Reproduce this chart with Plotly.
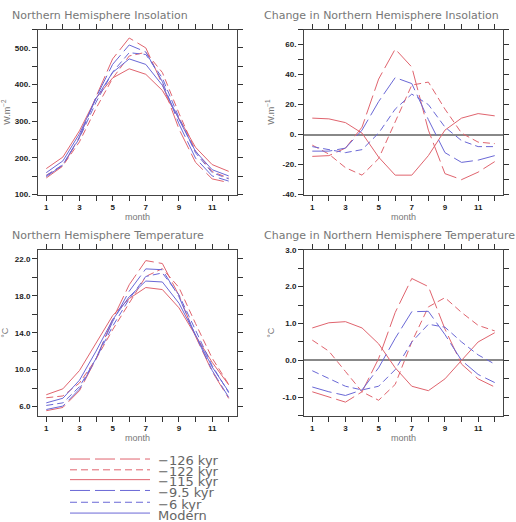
import plotly.graph_objects as go

months = list(range(1, 13))
series_names = ["\u2212126 kyr", "\u2212122 kyr", "\u2212115 kyr", "\u22129.5 kyr", "\u22126 kyr", "Modern"]

# Northern Hemisphere insolation (W m-2)
ins_126 = [145.5, 178, 257, 367, 470, 527, 500, 401, 279, 188, 143, 133]
ins_122 = [153, 179, 244, 335, 417, 478, 488, 433, 322, 219, 163, 145]
ins_115 = [171, 202.5, 274, 363, 418, 443, 428, 384, 308, 229, 182, 163.5]
ins_95 = [149, 181, 257, 365, 455, 508, 489, 408, 293, 199.5, 151, 137]
ins_6 = [152, 182, 254, 352, 434, 487, 482, 418, 310, 214, 160, 143]
ins_mod = [160, 192, 266, 362, 433, 470, 455, 398, 305, 218, 168, 151]

# Change in insolation relative to Modern
dins_126 = [-14.5, -14, -9, 5, 37, 57, 45, 3, -26, -30, -25, -18]
dins_122 = [-7, -13, -22, -27, -16, 8, 33, 35, 17, 1, -5, -6]
dins_115 = [11, 10.5, 8, 1, -15, -27, -27, -14, 3, 11, 14, 12.5]
dins_95 = [-11, -11, -9, 3, 22, 38, 34, 10, -12, -18.5, -17, -14]
dins_6 = [-8, -10, -12, -10, 1, 17, 27, 20, 5, -4, -8, -8]

# Northern Hemisphere temperature (degC)
tmp_126 = [5.55, 5.9, 7.72, 11.15, 15.45, 19.2, 21.82, 21.5, 18.05, 13.6, 9.8, 6.88]
tmp_122 = [6.95, 7.15, 8.55, 11.15, 14.32, 17.25, 20.1, 20.95, 18.9, 15.0, 11.25, 8.4]
tmp_115 = [7.28, 7.92, 9.9, 12.88, 15.85, 17.7, 18.9, 18.68, 16.7, 13.7, 10.8, 8.35]
tmp_95 = [5.68, 6.05, 7.9, 11.2, 15.2, 18.5, 20.92, 20.83, 17.9, 13.7, 9.92, 7.0]
tmp_6 = [6.12, 6.4, 8.15, 11.2, 14.7, 17.65, 20.1, 20.48, 18.1, 14.2, 10.45, 7.5]
tmp_mod = [6.4, 6.9, 8.85, 12.0, 15.4, 17.9, 19.6, 19.5, 17.2, 13.7, 10.3, 7.6]

# Change in temperature relative to Modern
dtmp_126 = [-0.85, -1.0, -1.13, -0.85, 0.05, 1.3, 2.22, 2.0, 0.85, -0.1, -0.5, -0.72]
dtmp_122 = [0.55, 0.25, -0.3, -0.85, -1.08, -0.65, 0.5, 1.45, 1.7, 1.3, 0.95, 0.8]
dtmp_115 = [0.88, 1.02, 1.05, 0.88, 0.45, -0.2, -0.7, -0.82, -0.5, 0.0, 0.5, 0.75]
dtmp_95 = [-0.72, -0.85, -0.95, -0.8, -0.2, 0.6, 1.32, 1.33, 0.7, 0.0, -0.38, -0.6]
dtmp_6 = [-0.28, -0.5, -0.7, -0.8, -0.7, -0.25, 0.5, 0.98, 0.9, 0.5, 0.15, -0.1]

# Tick labels
month_ticks = [1, 3, 5, 7, 9, 11]
ins_ticks = [100, 200, 300, 400, 500]
dins_ticks = [-40, -20, 0, 20, 40, 60]
tmp_ticks = [6.0, 10.0, 14.0, 18.0, 22.0]
dtmp_ticks = [-1.0, 0.0, 1.0, 2.0, 3.0]

RED = "#e0646e"
BLUE = "#6a68d6"
LONG = "20px,5px"
SHORT = "7px,4px"
styles = [
    (RED, LONG), (RED, SHORT), (RED, "solid"),
    (BLUE, LONG), (BLUE, SHORT), (BLUE, "solid"),
]

fig = go.Figure()

panels = [
    ("x", "y", [ins_126, ins_122, ins_115, ins_95, ins_6, ins_mod]),
    ("x2", "y2", [dins_126, dins_122, dins_115, dins_95, dins_6]),
    ("x3", "y3", [tmp_126, tmp_122, tmp_115, tmp_95, tmp_6, tmp_mod]),
    ("x4", "y4", [dtmp_126, dtmp_122, dtmp_115, dtmp_95, dtmp_6]),
]
for xa, ya, data in panels:
    for i, vals in enumerate(data):
        c, d = styles[i]
        fig.add_trace(go.Scatter(x=months, y=vals, mode="lines", xaxis=xa, yaxis=ya,
                                 line=dict(color=c, width=1, dash=d),
                                 name=series_names[i], showlegend=False))

W, H = 516, 522
def dx(a, b):
    return [a / W, b / W]
def dy(top, bottom):
    return [1 - bottom / H, 1 - top / H]

TICKFONT = dict(size=8, color="#222", family="Liberation Sans")

def xaxis(domain, anchor):
    return dict(domain=domain, anchor=anchor, range=[0.5, 12.5],
                tickvals=month_ticks, ticktext=["<b>%d</b>" % m for m in month_ticks],
                ticks="outside", ticklen=5, tickcolor="#333", showline=True, linecolor="#444",
                linewidth=1, mirror="ticks", showgrid=False, zeroline=False,
                minor=dict(tick0=0, dtick=1, ticks="outside", ticklen=5,
                           tickcolor="#333", showgrid=False),
                tickfont=TICKFONT,
                title=dict(text="month", font=dict(size=9, color="#777", family="Liberation Sans"), standoff=2))

def yaxis(domain, anchor, rng, ticks, minor_step, fmt, title, zero=False):
    return dict(domain=domain, anchor=anchor, range=rng, tickvals=ticks,
                ticktext=["<b>" + fmt(v) + "</b>" for v in ticks],
                ticks="outside", ticklen=5, tickcolor="#333", showline=True, linecolor="#444",
                linewidth=1, mirror="ticks", showgrid=False, zeroline=zero,
                zerolinecolor="#888", zerolinewidth=1.5,
                minor=dict(tick0=ticks[0], dtick=minor_step, ticks="outside", ticklen=5,
                           tickcolor="#333", showgrid=False),
                tickfont=TICKFONT,
                title=dict(text=title, font=dict(size=9, color="#777", family="Liberation Sans"), standoff=6))

fig.update_layout(
    width=W, height=H, margin=dict(l=0, r=0, t=0, b=0),
    paper_bgcolor="white", plot_bgcolor="white", showlegend=False,
    xaxis=xaxis(dx(38, 237), "y"),
    yaxis=yaxis(dy(26, 194), "x", [100, 550], ins_ticks, 50, lambda v: "%d." % v, "W.m<sup>\u22122</sup>"),
    xaxis2=xaxis(dx(304, 503), "y2"),
    yaxis2=yaxis(dy(26, 194), "x2", [-40, 70], dins_ticks, 10, lambda v: "%d." % v, "W.m<sup>\u22121</sup>", zero=True),
    xaxis3=xaxis(dx(38, 237), "y3"),
    yaxis3=yaxis(dy(250, 419), "x3", [5, 23], tmp_ticks, 2, lambda v: "%.1f" % v, "\u00b0C"),
    xaxis4=xaxis(dx(304, 503), "y4"),
    yaxis4=yaxis(dy(250, 419), "x4", [-1.5, 3.0], dtmp_ticks, 0.5, lambda v: "%.1f" % v, "\u00b0C", zero=True),
)

titles = [
    ("Northern Hemisphere Insolation", 10, 12),
    ("Change in Northern Hemisphere Insolation", 262, 12),
    ("Northern Hemisphere Temperature", 10, 236),
    ("Change in Northern Hemisphere Temperature", 262, 236),
]
for t, x, y in titles:
    fig.add_annotation(text=t, xref="paper", yref="paper", x=x / W, y=1 - y / H,
                       xanchor="left", yanchor="middle", showarrow=False,
                       font=dict(size=11, color="#777", family="DejaVu Sans"))

# Legend drawn in paper space
leg_y = [463, 474, 484, 495, 507, 518]
for i, name in enumerate(series_names):
    c, d = styles[i]
    yy = 1 - leg_y[i] / H
    fig.add_shape(type="line", xref="paper", yref="paper", x0=70 / W, x1=150 / W, y0=yy, y1=yy,
                  line=dict(color=c, width=1, dash=d))
    fig.add_annotation(text=name, xref="paper", yref="paper", x=156 / W, y=yy - 2 / H,
                       xanchor="left", yanchor="middle", showarrow=False,
                       font=dict(size=13, color="#666", family="DejaVu Sans"))

fig.write_html("out.html")
